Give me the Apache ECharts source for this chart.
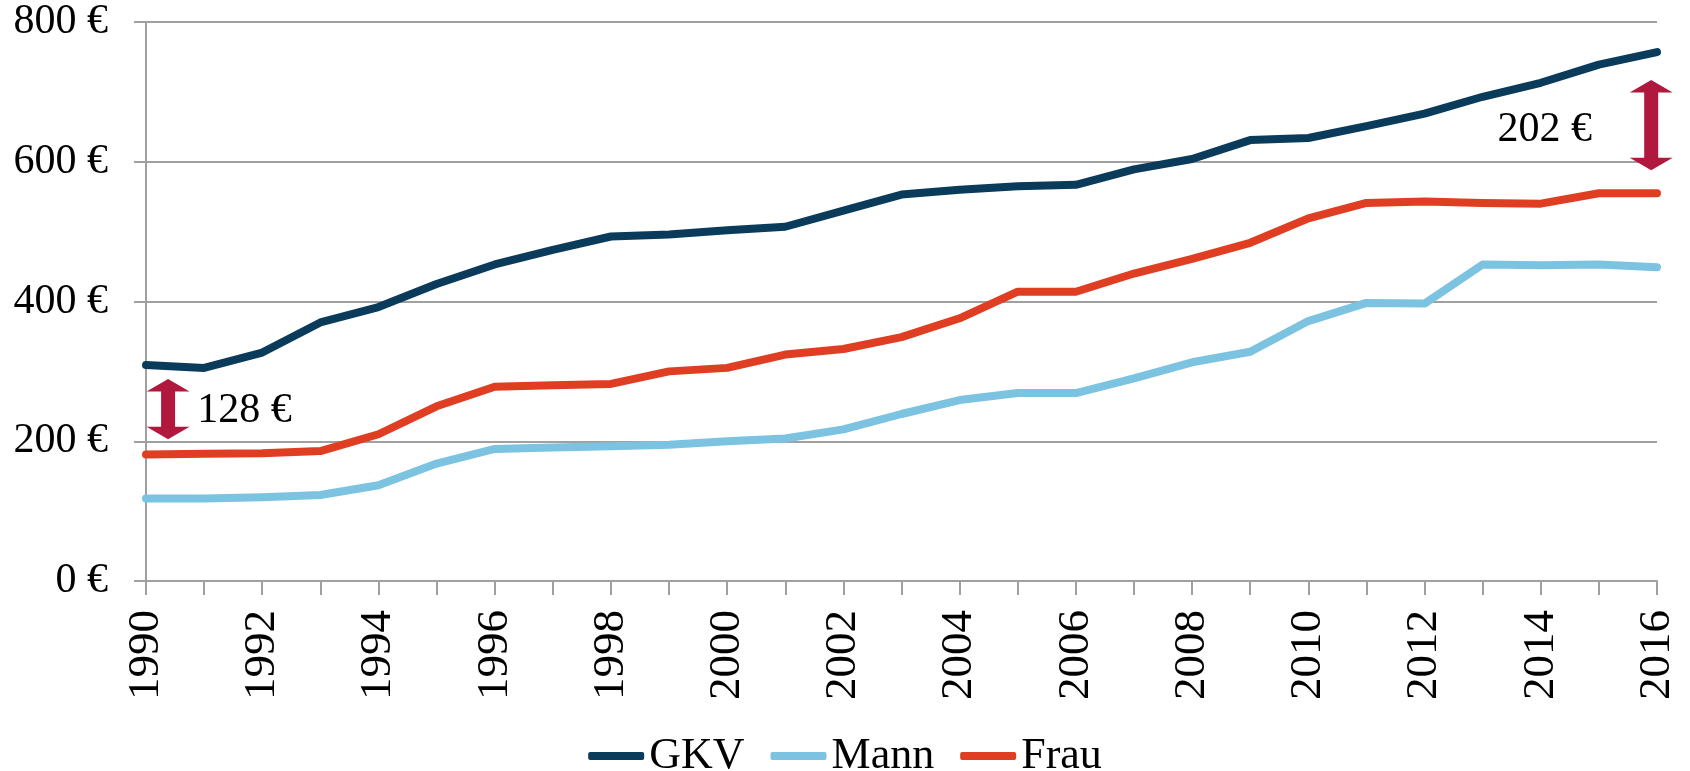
<!DOCTYPE html>
<html>
<head>
<meta charset="utf-8">
<title>GKV Ausgaben</title>
<script src="https://cdn.jsdelivr.net/npm/echarts@6/dist/echarts.min.js"></script>
<style>
  html, body { margin: 0; padding: 0; background: #fff; }
  #chart { width: 1690px; height: 771px; }
</style>
</head>
<body>
<div id="chart"></div>
<script>
const years = [1990, 1991, 1992, 1993, 1994, 1995, 1996, 1997, 1998, 1999, 2000, 2001, 2002,
  2003, 2004, 2005, 2006, 2007, 2008, 2009, 2010, 2011, 2012, 2013, 2014, 2015, 2016];
const gkv = [309, 305, 327, 370, 392, 425, 453, 474, 493, 496, 502, 507, 530,
  553, 560, 565, 567, 589, 604, 631, 634, 651, 669, 693, 713, 739, 757];
const mann = [118, 118, 120, 123, 137, 168, 189, 191, 193, 195, 200, 204, 217,
  239, 259, 269, 269, 290, 313, 328, 372, 398, 397, 453, 452, 453, 449];
const frau = [181, 182, 183, 186, 210, 250, 278, 280, 282, 300, 305, 324, 332,
  349, 376, 414, 414, 440, 461, 484, 519, 541, 543, 541, 540, 555, 555];

// gap arrows (x in years, y in euro)
const arrowX = [1990.38, 2015.9];
const arrowLow = [203, 588];
const arrowHigh = [289, 717];
const gapText = [(gkv[0] - frau[0]) + ' €', (gkv[gkv.length - 1] - frau[frau.length - 1]) + ' €'];
const gapTextX = [1990.88, 2014.88];
const gapTextY = [243, 646];
const gapAlign = ['left', 'right'];

const font = 'Liberation Serif';
const gridColor = '#a0a0a0';

const pairs = arr => years.map((y, i) => [y, arr[i]]);

const chart = echarts.init(document.getElementById('chart'));

chart.setOption({
  animation: false,
  backgroundColor: '#fff',
  grid: { left: 146, right: 33, top: 22, bottom: 190 },
  legend: {
    data: ['GKV', 'Mann', 'Frau'],
    left: 'center',
    top: 729,
    itemWidth: 56,
    itemHeight: 8,
    itemGap: 26,
    icon: 'roundRect',
    textStyle: { fontFamily: font, fontSize: 44, color: '#000' }
  },
  xAxis: {
    type: 'value',
    min: 1990,
    max: 2016,
    interval: 2,
    axisLine: { show: true, lineStyle: { color: gridColor, width: 2 } },
    axisTick: { show: true, length: 14, lineStyle: { color: gridColor, width: 2 } },
    minorTick: { show: true, splitNumber: 2, length: 14, lineStyle: { color: gridColor, width: 2 } },
    splitLine: { show: false },
    axisLabel: {
      rotate: 90,
      margin: 29,
      fontFamily: font,
      fontSize: 45,
      color: '#000',
      formatter: v => String(v)
    }
  },
  yAxis: {
    type: 'value',
    min: 0,
    max: 800,
    interval: 200,
    axisLine: { show: true, lineStyle: { color: gridColor, width: 2 } },
    axisTick: { show: true, length: 12, lineStyle: { color: gridColor, width: 2 } },
    splitLine: { show: true, lineStyle: { color: gridColor, width: 2 } },
    axisLabel: {
      margin: 38,
      fontFamily: font,
      fontSize: 42,
      color: '#000',
      formatter: '{value} €'
    }
  },
  series: [
    {
      name: 'GKV', type: 'line', symbol: 'none', color: '#0b3b5b',
      lineStyle: { width: 8, cap: 'round', join: 'round' },
      data: pairs(gkv)
    },
    {
      name: 'Mann', type: 'line', symbol: 'none', color: '#7bc3e1',
      lineStyle: { width: 8, cap: 'round', join: 'round' },
      data: pairs(mann)
    },
    {
      name: 'Frau', type: 'line', symbol: 'none', color: '#e03e22',
      lineStyle: { width: 8, cap: 'round', join: 'round' },
      data: pairs(frau)
    },
    {
      name: 'gap', type: 'custom', clip: false, silent: true,
      data: arrowX.map((x, i) => [x, arrowLow[i], arrowHigh[i]]),
      renderItem(params, api) {
        const i = params.dataIndex;
        const top = api.coord([api.value(0), api.value(2)]);
        const bot = api.coord([api.value(0), api.value(1)]);
        const cx = top[0], s = 7, h = 21.5, hl = 12.5;
        const t = api.coord([gapTextX[i], gapTextY[i]]);
        return {
          type: 'group',
          children: [
            {
              type: 'polygon',
              shape: {
                points: [
                  [cx, top[1]], [cx + h, top[1] + hl], [cx + s, top[1] + hl],
                  [cx + s, bot[1] - hl], [cx + h, bot[1] - hl], [cx, bot[1]],
                  [cx - h, bot[1] - hl], [cx - s, bot[1] - hl],
                  [cx - s, top[1] + hl], [cx - h, top[1] + hl]
                ]
              },
              style: { fill: '#b0193d' }
            },
            {
              type: 'text',
              x: t[0], y: t[1],
              style: {
                text: gapText[i],
                fontFamily: font,
                fontSize: 42,
                fill: '#000',
                align: gapAlign[i],
                verticalAlign: 'middle'
              }
            }
          ]
        };
      }
    }
  ]
});
</script>
</body>
</html>
